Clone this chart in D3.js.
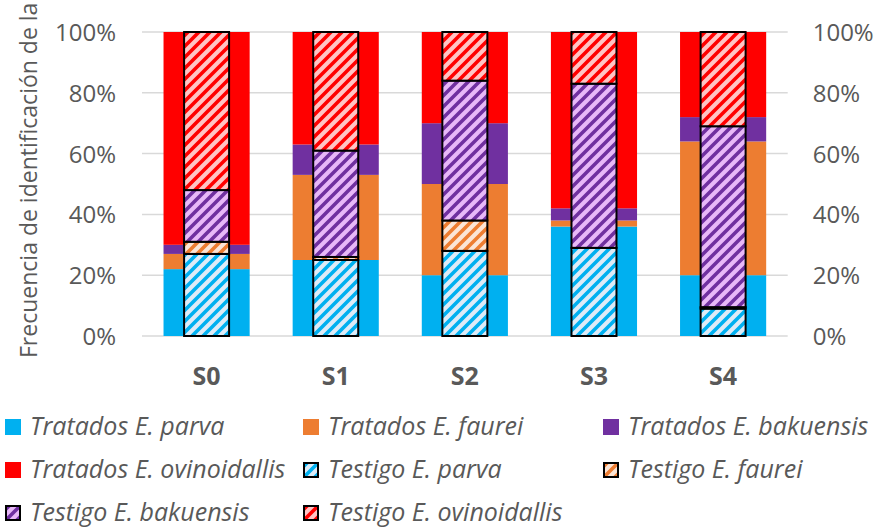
<!DOCTYPE html>
<html>
<head>
<meta charset="utf-8">
<script src="https://cdn.jsdelivr.net/npm/d3@7"></script>
<style>
  html, body { margin: 0; padding: 0; background: #fff; }
  svg { display: block; font-family: "Open Sans", sans-serif; }
</style>
</head>
<body>
<svg id="chart" width="875" height="527"></svg>
<script>
// Sampling stages
const categories = ["S0", "S1", "S2", "S3", "S4"];

// Treated groups (% of identification)
const tratadosParva        = [22, 25, 20, 36, 20];
const tratadosFaurei       = [5, 28, 30, 2, 44];
const tratadosBakuensis    = [3, 10, 20, 4, 8];
const tratadosOvinoidallis = [70, 37, 30, 58, 28];

// Control groups (% of identification)
const testigoParva        = [27, 25, 28, 29, 9];
const testigoFaurei       = [4, 1, 10, 0, 0.5];
const testigoBakuensis    = [17, 35, 46, 54, 59.5];
const testigoOvinoidallis = [52, 39, 16, 17, 31];

const yTicks = [0, 20, 40, 60, 80, 100];
const yTitle = "Frecuencia de identificación de la";

const species = ["parva", "faurei", "bakuensis", "ovinoidallis"];
const speciesLabel = {
  parva: "E. parva", faurei: "E. faurei",
  bakuensis: "E. bakuensis", ovinoidallis: "E. ovinoidallis"
};
const solid = { parva: "#00B0F0", faurei: "#ED7D31", bakuensis: "#7030A0", ovinoidallis: "#FF0000" };
const light = { parva: "#DEEBF7", faurei: "#FBE5D6", bakuensis: "#E8B8F8", ovinoidallis: "#FFC4C4" };

const treatedRows = categories.map((c, i) => ({
  cat: c, parva: tratadosParva[i], faurei: tratadosFaurei[i],
  bakuensis: tratadosBakuensis[i], ovinoidallis: tratadosOvinoidallis[i]
}));
const controlRows = categories.map((c, i) => ({
  cat: c, parva: testigoParva[i], faurei: testigoFaurei[i],
  bakuensis: testigoBakuensis[i], ovinoidallis: testigoOvinoidallis[i]
}));

const svg = d3.select("#chart");
const textColor = "#595959";

const plot = { left: 142, right: 787.7, top: 32, bottom: 336 };

const x = d3.scaleBand()
  .domain(categories)
  .range([plot.left, plot.right])
  .paddingInner(0.333)
  .paddingOuter(0.1667);

const y = d3.scaleLinear().domain([0, 100]).range([plot.bottom, plot.top]);

const controlWidth = 45;

// Diagonal hatch fills for the control series
const defs = svg.append("defs");
species.forEach(s => {
  const p = defs.append("pattern")
    .attr("id", "hatch-" + s)
    .attr("patternUnits", "userSpaceOnUse")
    .attr("width", 11).attr("height", 11);
  p.append("rect").attr("width", 11).attr("height", 11).attr("fill", light[s]);
  p.append("path")
    .attr("d", "M-2,2 L2,-2 M0,11 L11,0 M9,13 L13,9")
    .attr("stroke", solid[s]).attr("stroke-width", 3.6);
});

// Gridlines
svg.append("g")
  .selectAll("line")
  .data(yTicks)
  .join("line")
  .attr("x1", plot.left).attr("x2", plot.right)
  .attr("y1", d => y(d)).attr("y2", d => y(d))
  .attr("stroke", "#D9D9D9").attr("stroke-width", 1.5);

// Left and right axes
const fmt = d => d + "%";
const leftAxis = svg.append("g")
  .attr("transform", `translate(${plot.left - 26},0)`)
  .call(d3.axisLeft(y).tickValues(yTicks).tickFormat(fmt).tickSize(0).tickPadding(0));
const rightAxis = svg.append("g")
  .attr("transform", `translate(${plot.right + 25},0)`)
  .call(d3.axisRight(y).tickValues(yTicks).tickFormat(fmt).tickSize(0).tickPadding(0));
[leftAxis, rightAxis].forEach(a => {
  a.select(".domain").remove();
  a.selectAll("text")
    .attr("fill", textColor)
    .style("font-size", "24px")
    .style("font-family", "'Open Sans', sans-serif")
    .attr("dy", "0.35em");
});

// Category axis
const xAxis = svg.append("g")
  .attr("transform", `translate(0,${plot.bottom})`)
  .call(d3.axisBottom(x).tickSize(0).tickPadding(0));
xAxis.select(".domain").remove();
xAxis.selectAll("text")
  .attr("y", 49).attr("dy", 0)
  .attr("fill", textColor)
  .style("font-size", "25px")
  .style("font-weight", "bold")
  .style("font-family", "'Open Sans', sans-serif");

// Y axis title
svg.append("text")
  .attr("transform", "translate(37,358) rotate(-90)")
  .attr("fill", textColor)
  .style("font-size", "23px")
  .text(yTitle);

// Stacked bars
const stack = d3.stack().keys(species);
const treatedStack = stack(treatedRows);
const controlStack = stack(controlRows);

svg.append("g")
  .selectAll("g")
  .data(treatedStack)
  .join("g")
  .attr("fill", d => solid[d.key])
  .selectAll("rect")
  .data(d => d)
  .join("rect")
  .attr("x", d => x(d.data.cat))
  .attr("width", x.bandwidth())
  .attr("y", d => y(d[1]))
  .attr("height", d => y(d[0]) - y(d[1]));

svg.append("g")
  .selectAll("g")
  .data(controlStack)
  .join("g")
  .attr("fill", d => `url(#hatch-${d.key})`)
  .selectAll("rect")
  .data(d => d.filter(v => v[1] - v[0] > 0))
  .join("rect")
  .attr("x", d => x(d.data.cat) + x.bandwidth() / 2 - controlWidth / 2)
  .attr("width", controlWidth)
  .attr("y", d => y(d[1]))
  .attr("height", d => y(d[0]) - y(d[1]))
  .attr("stroke", "#000")
  .attr("stroke-width", 2);

// Legend
const legendItems = [
  ...species.map(s => ({ label: "Tratados " + speciesLabel[s], fill: solid[s], hatched: false })),
  ...species.map(s => ({ label: "Testigo " + speciesLabel[s], fill: `url(#hatch-${s})`, hatched: true }))
];
const colX = [5, 303, 603];
const rowY = [435, 478, 521];

const legend = svg.append("g")
  .selectAll("g")
  .data(legendItems)
  .join("g")
  .attr("transform", (d, i) => `translate(${colX[i % 3]},${rowY[Math.floor(i / 3)]})`);

legend.append("rect")
  .attr("x", d => d.hatched ? 1 : 0)
  .attr("y", d => d.hatched ? -15 : -16)
  .attr("width", d => d.hatched ? 14 : 16)
  .attr("height", d => d.hatched ? 14 : 16)
  .attr("fill", d => d.fill)
  .attr("stroke", d => d.hatched ? "#000" : "none")
  .attr("stroke-width", 2);

legend.append("text")
  .attr("x", 25)
  .attr("y", 0)
  .attr("fill", textColor)
  .style("font-size", "25px")
  .style("font-style", "italic")
  .text(d => d.label);
</script>
</body>
</html>
